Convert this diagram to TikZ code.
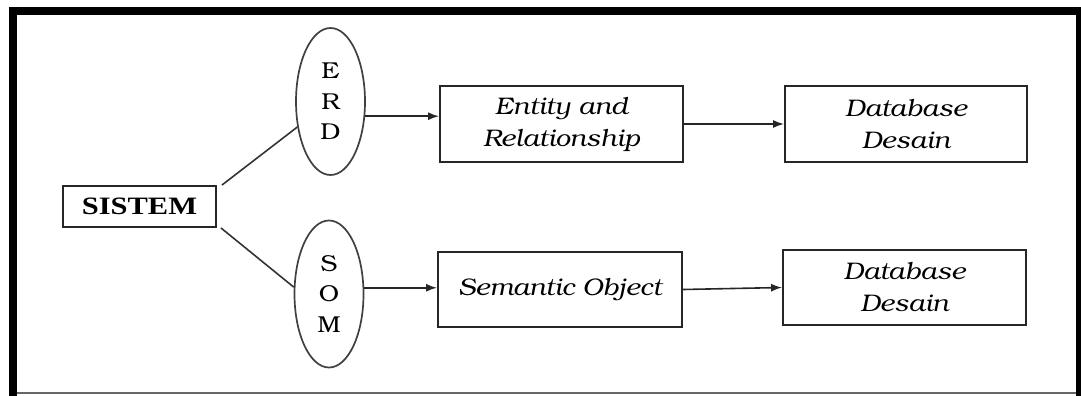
\documentclass[tikz,border=0pt]{standalone}
\usepackage{fontspec}
\setmainfont{Liberation Serif}
\newfontfamily\bonum{texgyrebonum}[Extension=.otf, UprightFont=*-regular, ItalicFont=*-italic, BoldFont=*-bold, BoldItalicFont=*-bolditalic, FakeStretch=1.1]
\newfontfamily\sisfont{Liberation Serif}[FakeStretch=1.22]
\usetikzlibrary{shapes.geometric,arrows.meta}
\begin{document}
\begin{tikzpicture}[x=1pt,y=-1pt,
  box/.style={draw=black!85, line width=1.9pt, inner sep=0pt, align=center,
    font=\bonum\itshape\fontsize{24}{32}\selectfont},
  oval/.style={ellipse, draw=black!75, line width=1.7pt, minimum width=69pt,
    minimum height=147pt, inner sep=0pt, align=center,
    font=\bonum\fontsize{23}{30.5}\selectfont},
  arr/.style={-{Latex[length=11pt,width=8pt]}, line width=1.6pt, draw=black!85},
  link/.style={line width=1.6pt, draw=black!80}]
\useasboundingbox (0,0) rectangle (1081,396);
% frame
\fill[black] (9,7) rectangle (1081,15);
\fill[black] (9,7) rectangle (17,396);
\fill[black] (1076,7) rectangle (1081,396);
\draw[black!60, line width=1.5pt] (17,393) -- (1076,393);
% nodes
\node[draw=black!85, line width=1.9pt, minimum width=153pt, minimum height=41pt, inner sep=0pt,
  font=\sisfont\bfseries\fontsize{25}{30}\selectfont] (sistem) at (139.5,206.5) {SISTEM};
\node[oval] (erd) at (330.5,101.5) {E\\R\\D};
\node[oval] (som) at (329,294) {S\\O\\M};
\node[box, minimum width=243pt, minimum height=76pt] (ent) at (561.5,124) {Entity and\\Relationship};
\node[box, minimum width=242pt, minimum height=76pt] (db1) at (906,124) {Database\\Desain};
\node[box, minimum width=244pt, minimum height=75pt] (sem) at (560,289.5) {Semantic Object};
\node[box, minimum width=243pt, minimum height=75pt] (db2) at (904.5,287.5) {Database\\Desain};
% connectors
\draw[link] ([xshift=5pt]sistem.north east) -- (erd);
\draw[link] ([xshift=4pt]sistem.south east) -- (som.169);
\draw[arr] (erd.-23) -- (erd.-23 -| ent.west);
\draw[arr] (ent.east) -- (db1.west);
\draw[arr] (som.10) -- (som.10 -| sem.west);
\draw[arr] (sem.east) -- (db2.west);
\end{tikzpicture}
\end{document}
